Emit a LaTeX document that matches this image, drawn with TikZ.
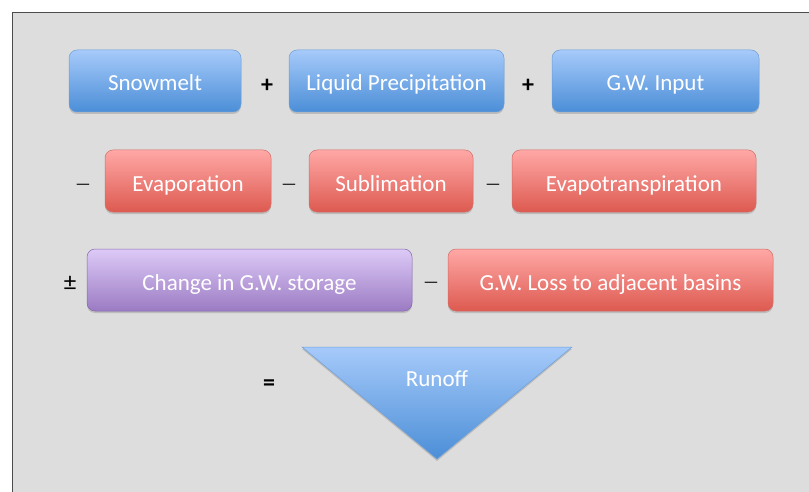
\documentclass[tikz,border=0pt]{standalone}
\usepackage{fontspec}
\setmainfont{Carlito}
\usetikzlibrary{shadows}

\definecolor{bluetop}{HTML}{A6CAFA}
\definecolor{bluebot}{HTML}{4B8ED7}
\definecolor{blueline}{HTML}{6C9FD8}
\definecolor{redtop}{HTML}{FFA8A6}
\definecolor{redbot}{HTML}{DD5A50}
\definecolor{redline}{HTML}{D26E68}
\definecolor{purtop}{HTML}{DDCAF7}
\definecolor{purbot}{HTML}{9B7BC3}
\definecolor{purline}{HTML}{8567AE}
\definecolor{panel}{HTML}{DDDDDD}

\tikzset{
  term/.style={rounded corners=8pt, text=white, minimum height=62pt,
    font=\fontsize{23}{27}\selectfont, line width=0.5pt,
    text height=22pt, text depth=2pt,
    drop shadow={shadow xshift=0pt, shadow yshift=-2pt, opacity=0.35}},
  inflow/.style={term, top color=bluetop, bottom color=bluebot, draw=blueline},
  outflow/.style={term, top color=redtop, bottom color=redbot, draw=redline},
  storage/.style={term, top color=purtop, bottom color=purbot, draw=purline},
  op/.style={font=\fontsize{25}{29}\selectfont, text=black},
  bop/.style={op, font=\fontsize{24}{28}\selectfont\bfseries},
  dop/.style={op, font=\fontsize{17}{21}\selectfont}
}

\begin{document}
\begin{tikzpicture}[x=1pt,y=-1pt]
\useasboundingbox (0,0) rectangle (809,492);
%\draw[help lines, step=50] (0,0) grid (809,492);
\fill [white] (0,0) rectangle (809,492);
\fill [panel] (12,12) rectangle (809,492);
\draw [gray!60!black, line width=0.8pt] (12,492) -- (12,12) -- (809,12);

% inputs
\node [inflow, minimum width=172pt] (snow) at (155,81) {Snowmelt};
\node [bop] (plusA) at (267,86) {+};
\node [inflow, minimum width=215pt] (rain) at (396.5,81) {Liquid Precipitation};
\node [bop] (plusB) at (528,86) {+};
\node [inflow, minimum width=207pt] (gwin) at (655.5,81) {G.W. Input};

% losses
\node [dop] (minA) at (83,187) {—};
\node [outflow, minimum width=166pt] (evap) at (188,181) {Evaporation};
\node [dop] (minB) at (289,187) {—};
\node [outflow, minimum width=164pt] (subl) at (391,181) {Sublimation};
\node [dop] (minC) at (493,187) {—};
\node [outflow, minimum width=244pt] (etr) at (634,181) {Evapotranspiration};

% storage
\node [op] (pm) at (70,283) {±};
\node [storage, minimum width=325pt] (store) at (249.5,280) {Change in G.W. storage};
\node [dop] (minD) at (431,285) {—};
\node [outflow, minimum width=325pt] (gwloss) at (610.5,280) {G.W. Loss to adjacent basins};

% result
\node [bop] (eq) at (269,385) {=};
\shade [top color=bluetop, bottom color=bluebot, draw=blueline, line width=0.5pt,
  drop shadow={shadow xshift=0pt, shadow yshift=-2pt, opacity=0.35}]
  (302,347) -- (572,347) -- (437,459) -- cycle;
\node [text=white, font=\fontsize{23}{27}\selectfont] (runoff) at (437,379) {Runoff};

\end{tikzpicture}
\end{document}
